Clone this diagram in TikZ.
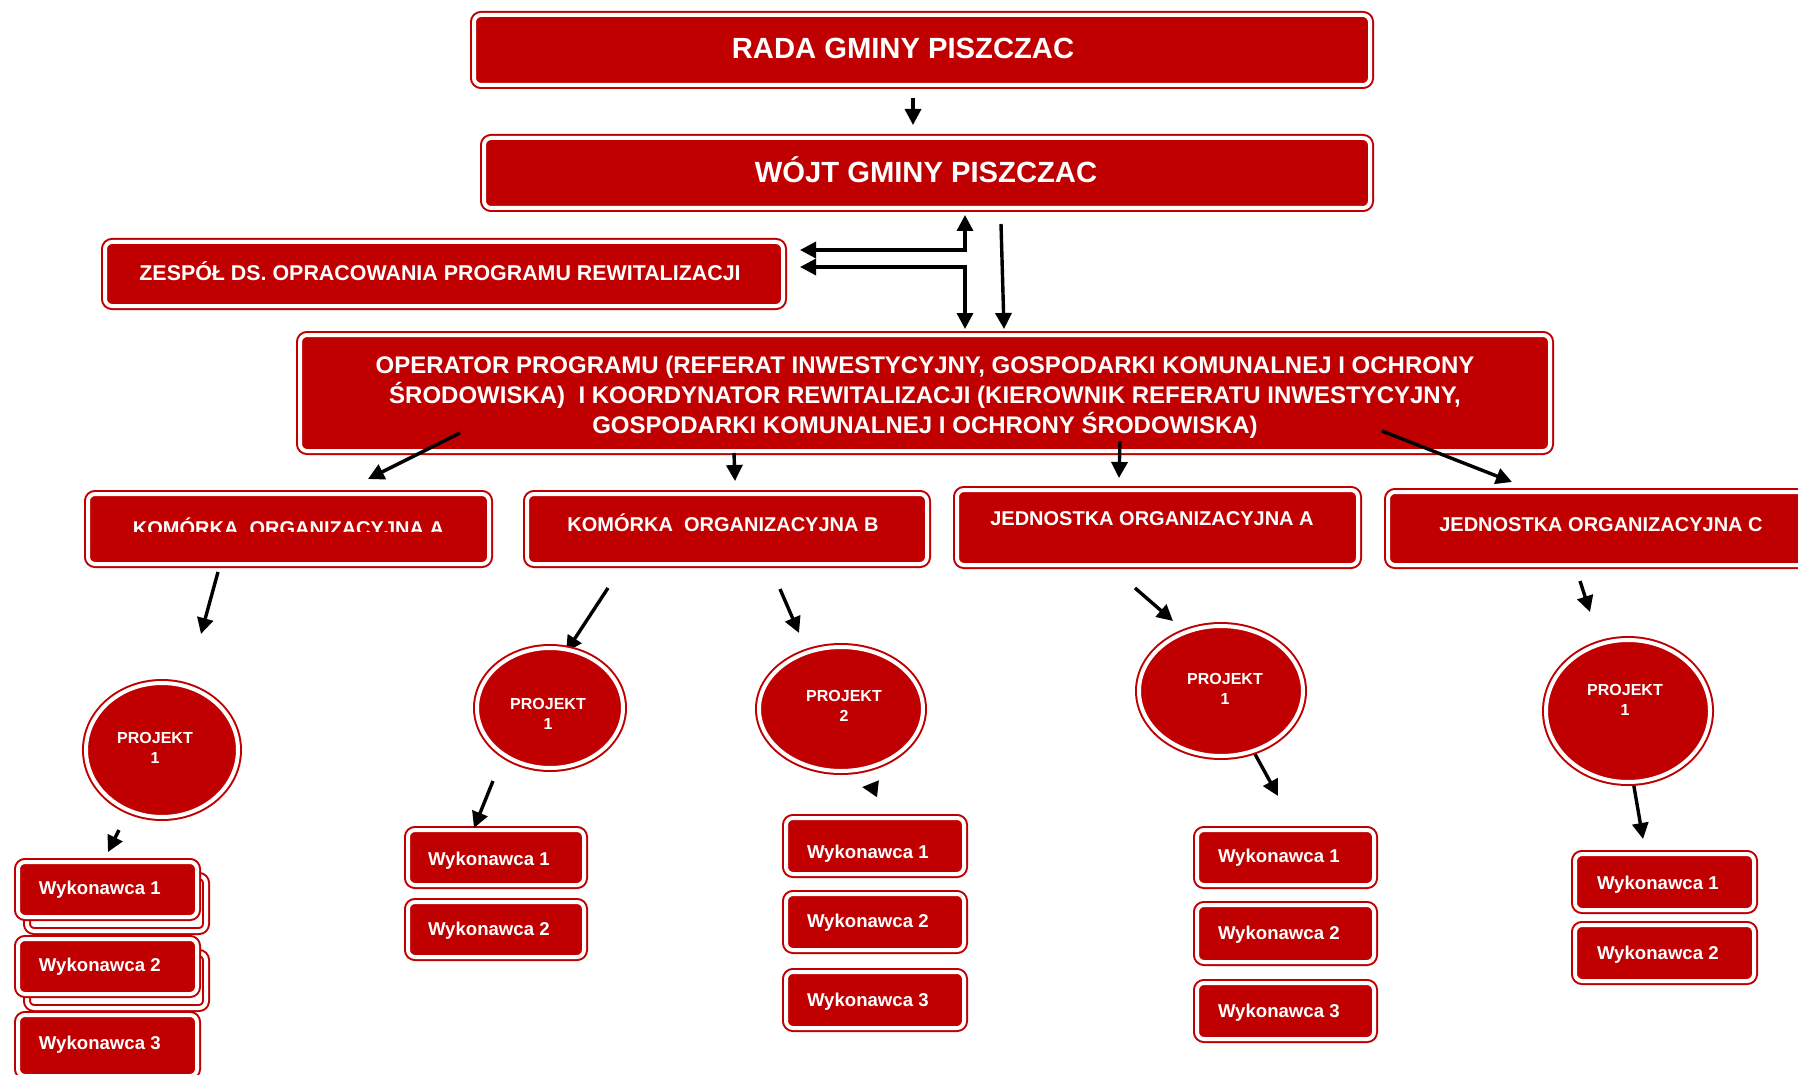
\documentclass[tikz,border=0pt]{standalone}
\usepackage{fontspec}
\setmainfont{Liberation Sans}
\usetikzlibrary{arrows.meta,shapes.geometric,backgrounds}
\definecolor{boxred}{HTML}{C00000}
\tikzset{
  rbx/.style={rectangle, draw=boxred, line width=1pt, double=white, double distance=2pt,
    fill=boxred, rounded corners=3.5pt, inner sep=0pt, outer sep=0pt},
  ghostbx/.style={rbx, fill=white},
  ell/.style={ellipse, draw=boxred, line width=1pt, double=white, double distance=2pt,
    fill=boxred, inner sep=0pt, outer sep=0pt},
  lbl/.style={text=white, inner sep=0pt, outer sep=0pt},
  fR/.style={font=\bfseries\fontsize{14.6}{17}\selectfont},
  fZ/.style={font=\bfseries\fontsize{10.7}{13}\selectfont},
  fOP/.style={font=\bfseries\fontsize{12}{14.9}\selectfont, align=center},
  fL/.style={font=\bfseries\fontsize{10}{12}\selectfont},
  fP/.style={font=\bfseries\fontsize{8}{9.75}\selectfont, align=center},
  fW/.style={font=\bfseries\fontsize{9.3}{11}\selectfont},
  arr/.style={line width=1.7pt, -{Triangle[length=8pt,width=8pt]}},
  darr/.style={line width=1.7pt, {Triangle[length=8pt,width=8pt]}-{Triangle[length=8pt,width=8pt]}},
}
\newcommand\rbox[6][]{\node[rbx,#1,minimum width={(#5-#3-8)*0.5pt},minimum height={(#6-#4-8)*0.5pt}] (#2) at ({(#3+#5)/2},{(#4+#6)/2}) {};}
\newcommand\rell[5]{\node[ell,minimum width={(2*#4-8)*0.5pt},minimum height={(2*#5-8)*0.5pt}] (#1) at (#2,#3) {};}
\begin{document}
\begin{tikzpicture}[x=0.5pt,y=-0.5pt]
\path[use as bounding box, clip] (0,0) rectangle (1798,1075);

% ---------- connector end points ----------
\coordinate (r1) at (913,98);   \coordinate (r2) at (913,125);
\coordinate (e1a) at (965,215); \coordinate (e1b) at (800,250);
\coordinate (e2a) at (800,267); \coordinate (e2b) at (965,329);
\coordinate (s1) at (1001,224); \coordinate (s2) at (1004,329);
\coordinate (o1a) at (460,433); \coordinate (o1b) at (368,479);
\coordinate (o2a) at (734,453); \coordinate (o2b) at (735,481);
\coordinate (o3a) at (1120,441); \coordinate (o3b) at (1119,478);
\coordinate (o4a) at (1382,431); \coordinate (o4b) at (1512,482);
\coordinate (k1a) at (218,572); \coordinate (k1b) at (201,634);
\coordinate (k2a) at (608,588); \coordinate (k2b) at (566,652);
\coordinate (k3a) at (780,589); \coordinate (k3b) at (799,633);
\coordinate (k4a) at (1135,588); \coordinate (k4b) at (1173,621);
\coordinate (k5a) at (1580,581); \coordinate (k5b) at (1590,612);
\coordinate (p1a) at (119,830); \coordinate (p1b) at (108,852);
\coordinate (p2a) at (493,781); \coordinate (p2b) at (474,828);
\coordinate (p3a) at (871,788); \coordinate (p3b) at (862,787);
\coordinate (p4a) at (1250,745); \coordinate (p4b) at (1278,796);
\coordinate (p5a) at (1632,775); \coordinate (p5b) at (1643,839);

% ---------- background layer: white page and hidden-end arrows ----------
\begin{pgfonlayer}{background}
\fill[white] (0,0) rectangle (1798,1075);
\draw[arr] (k2a) -- (k2b);
\draw[arr] (p3a) -- (p3b);
\draw[arr] (p4a) -- (p4b);
\draw[arr] (p5a) -- (p5b);
\end{pgfonlayer}

% ---------- top levels ----------
\rbox{rada}{470}{11}{1374}{89}
\node[lbl,fR,anchor=base] (radaT) at (903,58.5) {RADA GMINY PISZCZAC};
\rbox{wojt}{480}{134}{1374}{212}
\node[lbl,fR,anchor=base] (wojtT) at (926,182.5) {WÓJT GMINY PISZCZAC};
\rbox{zesp}{101}{238}{787}{310}
\node[lbl,fZ,anchor=base] (zespT) at (440,280.7) {ZESPÓŁ DS. OPRACOWANIA PROGRAMU REWITALIZACJI};
\rbox{oper}{296}{331}{1554}{455}
\node[lbl,fOP] (operT) at (925,397) {OPERATOR PROGRAMU (REFERAT INWESTYCYJNY, GOSPODARKI KOMUNALNEJ I OCHRONY\\ ŚRODOWISKA)\ \ I KOORDYNATOR REWITALIZACJI (KIEROWNIK REFERATU INWESTYCYJNY,\\GOSPODARKI KOMUNALNEJ I OCHRONY ŚRODOWISKA)};

% ---------- level 3 ----------
\rbox{komA}{84}{490}{493}{568}
\begin{scope}
\clip (84,490) rectangle (493,531);
\node[lbl,fL,anchor=base] (komAT) at (288.5,535.2) {KOMÓRKA\ \ ORGANIZACYJNA A};
\end{scope}
\rbox{komB}{523}{490}{931}{568}
\node[lbl,fL,anchor=base] (komBT) at (723,531.2) {KOMÓRKA\ \ ORGANIZACYJNA B};
\rbox{jedA}{953}{486}{1362}{569}
\node[lbl,fL,anchor=base] (jedAT) at (1152,525.2) {JEDNOSTKA ORGANIZACYJNA A};
\rbox{jedC}{1384}{488}{1815}{569}
\node[lbl,fL,anchor=base] (jedCT) at (1601,531.2) {JEDNOSTKA ORGANIZACYJNA C};

% ---------- projects ----------
\rell{pA}{162}{750}{80}{71}
\node[lbl,fP] (pAT) at (155,748) {PROJEKT\\1};
\rell{pB1}{550}{708}{77}{64}
\node[lbl,fP] (pB1T) at (548,714) {PROJEKT\\1};
\rell{pB2}{841}{709}{86}{66}
\node[lbl,fP] (pB2T) at (844,706) {PROJEKT\\2};
\rell{pJA}{1221}{691}{86}{69}
\node[lbl,fP] (pJAT) at (1225,689) {PROJEKT\\1};
\rell{pJC}{1628}{711}{86}{75}
\node[lbl,fP] (pJCT) at (1625,700) {PROJEKT\\1};

% ---------- contractors ----------
\rbox[ghostbx]{gA1}{23}{872}{210}{935}
\rbox[ghostbx]{gA2}{23}{949}{210}{1012}
\rbox{wA1}{14}{858}{201}{921}
\rbox{wA2}{14}{935}{201}{998}
\rbox{wA3}{14}{1011}{201}{1080}
\node[lbl,fW,anchor=base west] (wA1T) at (39,894.7) {Wykonawca 1};
\node[lbl,fW,anchor=base west] (wA2T) at (39,971.7) {Wykonawca 2};
\node[lbl,fW,anchor=base west] (wA3T) at (39,1049.7) {Wykonawca 3};

\rbox{wB11}{404}{826}{588}{889}
\rbox{wB12}{404}{898}{588}{961}
\node[lbl,fW,anchor=base west] (wB11T) at (428,865.7) {Wykonawca 1};
\node[lbl,fW,anchor=base west] (wB12T) at (428,935.7) {Wykonawca 2};

\rbox{wB21}{782}{814}{968}{878}
\rbox{wB22}{782}{890}{968}{954}
\rbox{wB23}{782}{968}{968}{1032}
\node[lbl,fW,anchor=base west] (wB21T) at (807,858.7) {Wykonawca 1};
\node[lbl,fW,anchor=base west] (wB22T) at (807,927.7) {Wykonawca 2};
\node[lbl,fW,anchor=base west] (wB23T) at (807,1006.7) {Wykonawca 3};

\rbox{wJA1}{1193}{826}{1378}{889}
\rbox{wJA2}{1193}{901}{1378}{966}
\rbox{wJA3}{1193}{979}{1378}{1043}
\node[lbl,fW,anchor=base west] (wJA1T) at (1218,862.7) {Wykonawca 1};
\node[lbl,fW,anchor=base west] (wJA2T) at (1218,939.7) {Wykonawca 2};
\node[lbl,fW,anchor=base west] (wJA3T) at (1218,1017.7) {Wykonawca 3};

\rbox{wJC1}{1571}{850}{1758}{914}
\rbox{wJC2}{1571}{921}{1758}{985}
\node[lbl,fW,anchor=base west] (wJC1T) at (1597,889.7) {Wykonawca 1};
\node[lbl,fW,anchor=base west] (wJC2T) at (1597,959.7) {Wykonawca 2};

% ---------- connectors on top ----------
\draw[arr] (r1) -- (r2);
\draw[darr] (e1a) |- (e1b);
\draw[darr] (e2a) -| (e2b);
\draw[arr] (s1) -- (s2);
\draw[arr] (o1a) -- (o1b);
\draw[arr] (o2a) -- (o2b);
\draw[arr] (o3a) -- (o3b);
\draw[arr] (o4a) -- (o4b);
\draw[arr] (k1a) -- (k1b);
\draw[arr] (k3a) -- (k3b);
\draw[arr] (k4a) -- (k4b);
\draw[arr] (k5a) -- (k5b);
\draw[arr] (p1a) -- (p1b);
\draw[arr] (p2a) -- (p2b);
\end{tikzpicture}
\end{document}
